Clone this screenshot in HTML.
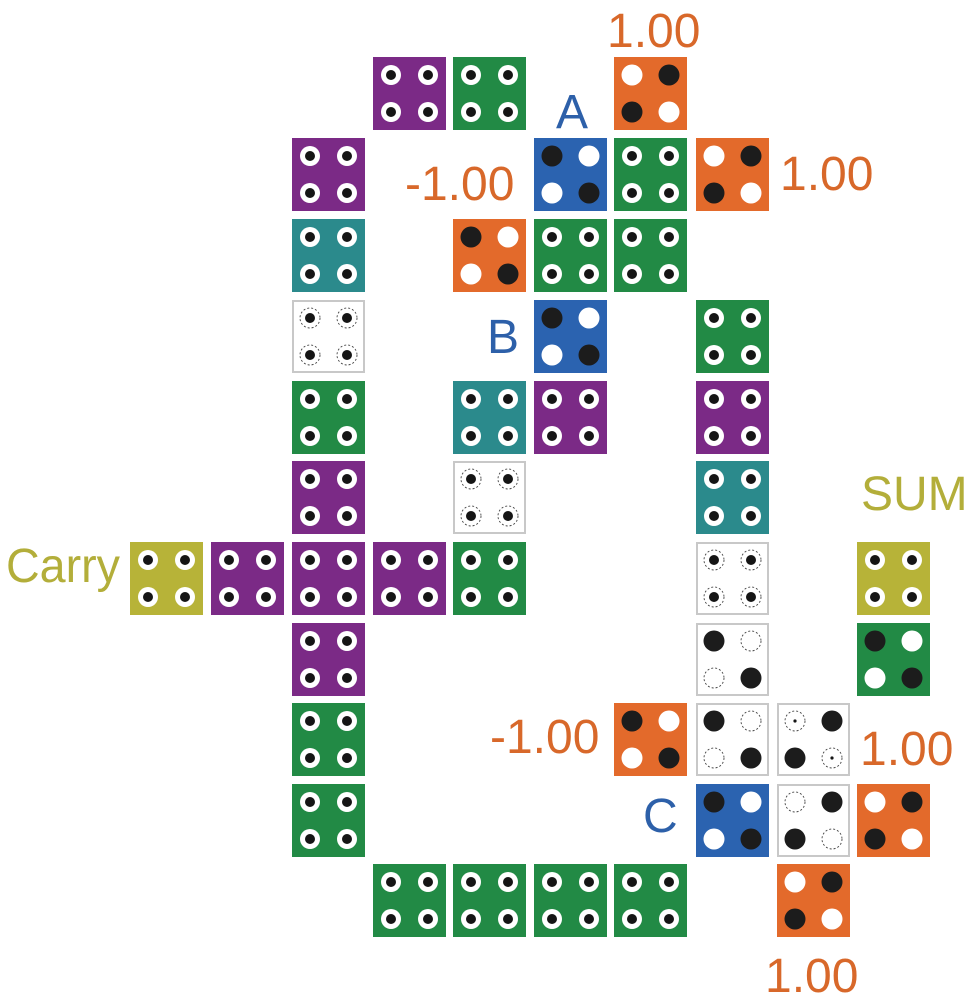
<!DOCTYPE html>
<html><head><meta charset="utf-8"><style>
html,body{margin:0;padding:0;background:#fff;}
svg{display:block;}
text{font-family:"Liberation Sans",sans-serif;font-size:48px;}
</style></head><body>
<svg width="969" height="994" viewBox="0 0 969 994" xmlns="http://www.w3.org/2000/svg">
<defs>
<g id="r"><circle r="10" fill="#fff"/><circle r="5" fill="#151515"/></g>
<g id="b"><circle r="10.5" fill="#1c1c1c"/></g>
<g id="w"><circle r="10.5" fill="#fff"/></g>
<g id="d"><circle r="10" fill="none" stroke="#444" stroke-width="0.9" stroke-dasharray="2 2"/><circle r="5" fill="#151515"/></g>
<g id="e"><circle r="10" fill="none" stroke="#444" stroke-width="0.9" stroke-dasharray="2 2"/></g>
<g id="f"><circle r="10" fill="none" stroke="#444" stroke-width="0.9" stroke-dasharray="2 2"/><circle r="1.6" fill="#151515"/></g>
<g id="N"><use href="#r" x="18" y="18"/><use href="#r" x="55" y="18"/><use href="#r" x="18" y="55"/><use href="#r" x="55" y="55"/></g>
<g id="D"><use href="#d" x="18" y="18"/><use href="#d" x="55" y="18"/><use href="#d" x="18" y="55"/><use href="#d" x="55" y="55"/></g>
<g id="BW"><use href="#b" x="18" y="18"/><use href="#w" x="55" y="18"/><use href="#w" x="18" y="55"/><use href="#b" x="55" y="55"/></g>
<g id="WB"><use href="#w" x="18" y="18"/><use href="#b" x="55" y="18"/><use href="#b" x="18" y="55"/><use href="#w" x="55" y="55"/></g>
<g id="BE"><use href="#b" x="18" y="18"/><use href="#e" x="55" y="18"/><use href="#e" x="18" y="55"/><use href="#b" x="55" y="55"/></g>
<g id="FB"><use href="#f" x="18" y="18"/><use href="#b" x="55" y="18"/><use href="#b" x="18" y="55"/><use href="#f" x="55" y="55"/></g>
<g id="EB"><use href="#e" x="18" y="18"/><use href="#b" x="55" y="18"/><use href="#b" x="18" y="55"/><use href="#e" x="55" y="55"/></g>
<rect id="P" width="73" height="73" fill="#7b2a86"/>
<rect id="G" width="73" height="73" fill="#228a45"/>
<rect id="O" width="73" height="73" fill="#e36a2b"/>
<rect id="U" width="73" height="73" fill="#2b63b0"/>
<rect id="T" width="73" height="73" fill="#2b8a8c"/>
<rect id="Y" width="73" height="73" fill="#b7b338"/>
<rect id="W" x="1" y="1" width="71" height="71" fill="#fff" stroke="#c8c8c8" stroke-width="2"/>
</defs>

<!-- row0 y=57 -->
<g transform="translate(373,57)"><use href="#P"/><use href="#N"/></g>
<g transform="translate(453,57)"><use href="#G"/><use href="#N"/></g>
<g transform="translate(614,57)"><use href="#O"/><use href="#WB"/></g>
<!-- row1 y=138 -->
<g transform="translate(292,138)"><use href="#P"/><use href="#N"/></g>
<g transform="translate(534,138)"><use href="#U"/><use href="#BW"/></g>
<g transform="translate(614,138)"><use href="#G"/><use href="#N"/></g>
<g transform="translate(696,138)"><use href="#O"/><use href="#WB"/></g>
<!-- row2 y=219 -->
<g transform="translate(292,219)"><use href="#T"/><use href="#N"/></g>
<g transform="translate(453,219)"><use href="#O"/><use href="#BW"/></g>
<g transform="translate(534,219)"><use href="#G"/><use href="#N"/></g>
<g transform="translate(614,219)"><use href="#G"/><use href="#N"/></g>
<!-- row3 y=300 -->
<g transform="translate(292,300)"><use href="#W"/><use href="#D"/></g>
<g transform="translate(534,300)"><use href="#U"/><use href="#BW"/></g>
<g transform="translate(696,300)"><use href="#G"/><use href="#N"/></g>
<!-- row4 y=381 -->
<g transform="translate(292,381)"><use href="#G"/><use href="#N"/></g>
<g transform="translate(453,381)"><use href="#T"/><use href="#N"/></g>
<g transform="translate(534,381)"><use href="#P"/><use href="#N"/></g>
<g transform="translate(696,381)"><use href="#P"/><use href="#N"/></g>
<!-- row5 y=461 -->
<g transform="translate(292,461)"><use href="#P"/><use href="#N"/></g>
<g transform="translate(453,461)"><use href="#W"/><use href="#D"/></g>
<g transform="translate(696,461)"><use href="#T"/><use href="#N"/></g>
<!-- row6 y=542 -->
<g transform="translate(130,542)"><use href="#Y"/><use href="#N"/></g>
<g transform="translate(211,542)"><use href="#P"/><use href="#N"/></g>
<g transform="translate(292,542)"><use href="#P"/><use href="#N"/></g>
<g transform="translate(373,542)"><use href="#P"/><use href="#N"/></g>
<g transform="translate(453,542)"><use href="#G"/><use href="#N"/></g>
<g transform="translate(696,542)"><use href="#W"/><use href="#D"/></g>
<g transform="translate(857,542)"><use href="#Y"/><use href="#N"/></g>
<!-- row7 y=623 -->
<g transform="translate(292,623)"><use href="#P"/><use href="#N"/></g>
<g transform="translate(696,623)"><use href="#W"/><use href="#BE"/></g>
<g transform="translate(857,623)"><use href="#G"/><use href="#BW"/></g>
<!-- row8 y=703 -->
<g transform="translate(292,703)"><use href="#G"/><use href="#N"/></g>
<g transform="translate(614,703)"><use href="#O"/><use href="#BW"/></g>
<g transform="translate(696,703)"><use href="#W"/><use href="#BE"/></g>
<g transform="translate(777,703)"><use href="#W"/><use href="#FB"/></g>
<!-- row9 y=784 -->
<g transform="translate(292,784)"><use href="#G"/><use href="#N"/></g>
<g transform="translate(696,784)"><use href="#U"/><use href="#BW"/></g>
<g transform="translate(777,784)"><use href="#W"/><use href="#EB"/></g>
<g transform="translate(857,784)"><use href="#O"/><use href="#WB"/></g>
<!-- row10 y=864 -->
<g transform="translate(373,864)"><use href="#G"/><use href="#N"/></g>
<g transform="translate(453,864)"><use href="#G"/><use href="#N"/></g>
<g transform="translate(534,864)"><use href="#G"/><use href="#N"/></g>
<g transform="translate(614,864)"><use href="#G"/><use href="#N"/></g>
<g transform="translate(777,864)"><use href="#O"/><use href="#WB"/></g>

<!-- labels -->
<g fill="#d8682a">
<text x="607" y="47">1.00</text>
<text x="405" y="200">-1.00</text>
<text x="780" y="190">1.00</text>
<text x="490" y="753">-1.00</text>
<text x="860" y="765">1.00</text>
<text x="765" y="992">1.00</text>
</g>
<g fill="#2d60a9">
<text x="556" y="128">A</text>
<text x="487" y="353">B</text>
<text x="643" y="832">C</text>
</g>
<g fill="#b3ae3a">
<text x="861" y="510">SUM</text>
<text x="6" y="582" textLength="114" lengthAdjust="spacingAndGlyphs">Carry</text>
</g>
</svg>
</body></html>
